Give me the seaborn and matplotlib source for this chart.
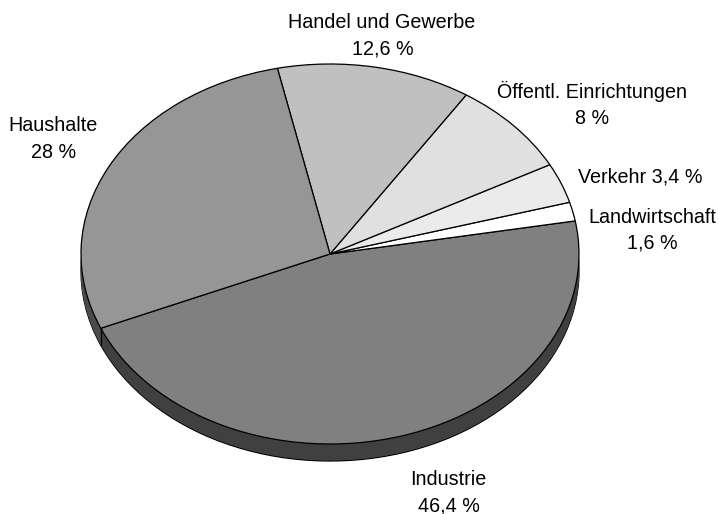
import matplotlib
matplotlib.use("Agg")
import matplotlib.pyplot as plt
import numpy as np
import seaborn as sns

sns.set_theme(style="white")
plt.rcParams['font.family'] = ['Liberation Sans', 'DejaVu Sans']

sectors = ["Industrie", "Landwirtschaft", "Verkehr", "Öffentl. Einrichtungen", "Handel und Gewerbe", "Haushalte"]
shares = [46.4, 1.6, 3.4, 8.0, 12.6, 28.0]
top_colors = ["#808080", "#ffffff", "#ebebeb", "#e0e0e0", "#c0c0c0", "#969696"]
side_colors = ["#404040", "#808080", "#757575", "#707070", "#606060", "#4b4b4b"]
label_lines = ["Industrie", "46,4 %", "Landwirtschaft", "1,6 %", "Verkehr 3,4 %",
               "Öffentl. Einrichtungen", "8 %", "Handel und Gewerbe", "12,6 %", "Haushalte", "28 %"]
label_xy_px = [(448, 485), (449, 511), (652.5, 223), (652, 249), (640.5, 183),
               (592, 98), (592, 124), (382, 28), (383, 55), (53, 131), (53.5, 158)]

W, H = 718, 514
fig = plt.figure(figsize=(W/100, H/100), dpi=100, facecolor="white")
ax = fig.add_axes([0, 0, 1, 1])

rx, ry, cx, cy, depth = 249, 190, 330, 254, 17
start = 203

# extruded wall: outlined base, then edge-free copies stepped up to the top face
ax.pie(shares, colors=side_colors, startangle=start, radius=1, center=(0, -depth/ry),
       wedgeprops=dict(edgecolor="black", linewidth=0.9), normalize=True)
for d in np.arange(depth - 0.5, 0, -0.5):
    ax.pie(shares, colors=side_colors, startangle=start, radius=1, center=(0, -d/ry),
           wedgeprops=dict(edgecolor="none", linewidth=0), normalize=True)
# vertical seam where the Industrie and Haushalte walls meet
seam = np.deg2rad(start)
ax.plot([np.cos(seam)] * 2, [np.sin(seam), np.sin(seam) - depth/ry], color="black", lw=0.9, zorder=5)
# top face
ax.pie(shares, colors=top_colors, startangle=start, radius=1, center=(0, 0),
       wedgeprops=dict(edgecolor="black", linewidth=0.9), normalize=True)

ax.set_aspect("auto")
ax.set_xlim(-cx/rx, (W-cx)/rx)
ax.set_ylim(-(H-cy)/ry, cy/ry)
ax.axis("off")

for text, (px, py) in zip(label_lines, label_xy_px):
    ax.text((px-cx)/rx, (cy-py)/ry, text, ha="center", va="baseline", fontsize=14.2, color="black")

fig.savefig("out.png", dpi=100)
